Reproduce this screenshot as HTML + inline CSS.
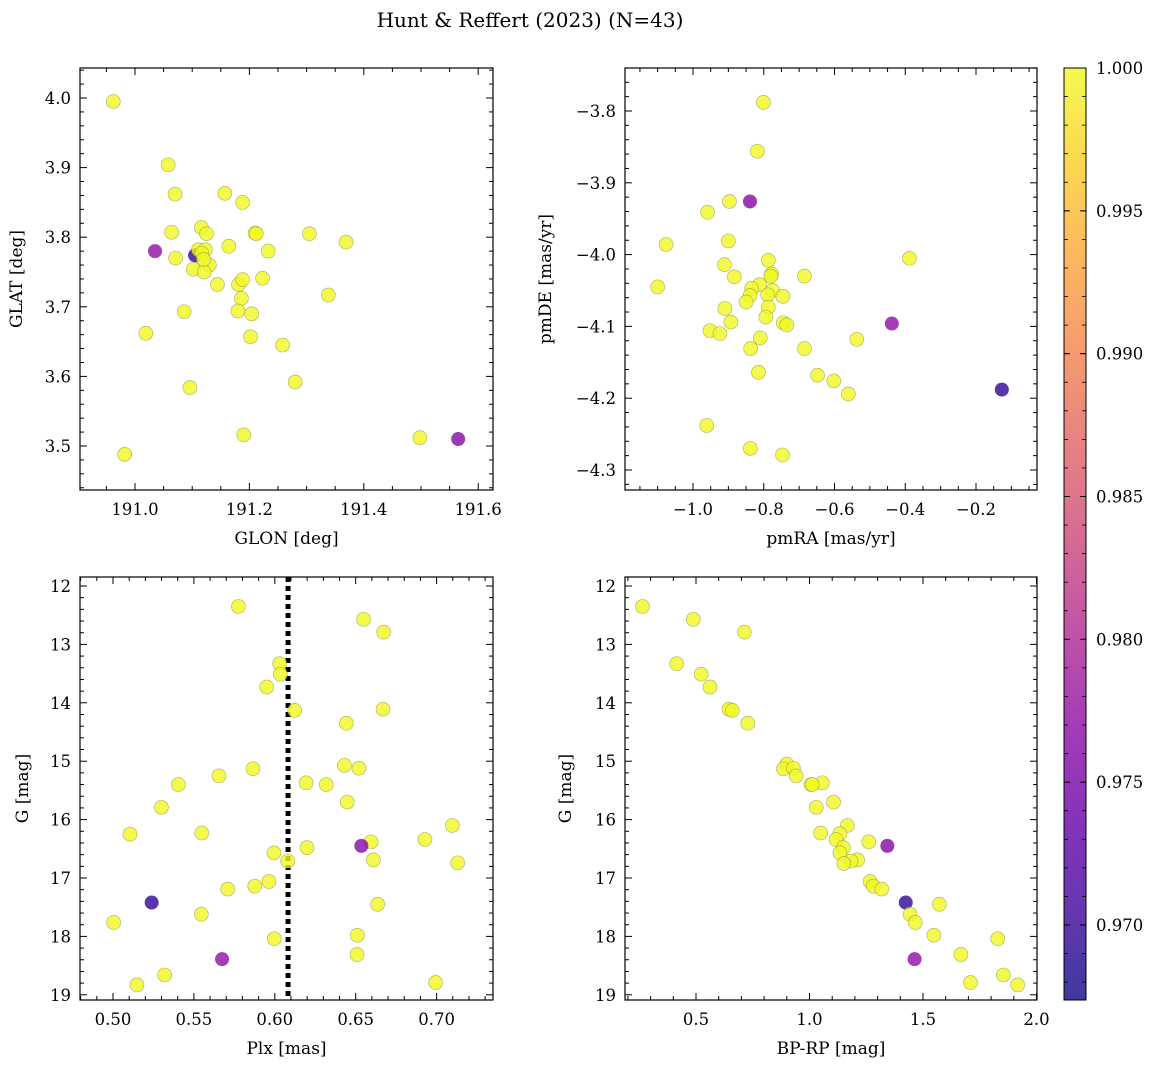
<!DOCTYPE html>
<html><head><meta charset="utf-8"><style>
body{margin:0;background:#fff;}
svg{display:block;font-family:"DejaVu Serif","Liberation Serif",serif;}
</style></head><body>
<svg id="fig" width="1161" height="1067" viewBox="0 0 1161 1067">
<defs><linearGradient id="plasma" x1="0" y1="1" x2="0" y2="0">
<stop offset="0" stop-color="#0d0887"/><stop offset="0.1" stop-color="#41049d"/><stop offset="0.2" stop-color="#6a00a8"/><stop offset="0.3" stop-color="#8f0da4"/><stop offset="0.4" stop-color="#b12a90"/><stop offset="0.5" stop-color="#cc4778"/><stop offset="0.6" stop-color="#e16462"/><stop offset="0.7" stop-color="#f2844b"/><stop offset="0.8" stop-color="#fca636"/><stop offset="0.9" stop-color="#fcce25"/><stop offset="1" stop-color="#f0f921"/></linearGradient></defs>
<text x="530" y="27" text-anchor="middle" font-size="20">Hunt &amp; Reffert (2023) (N=43)</text>
</svg>
<script>
// Panel data
const glon=[190.962,191.058,191.070,191.157,191.188,191.064,191.116,191.125,191.210,191.212,191.305,191.369,191.035,191.105,191.111,191.123,191.164,191.233,191.071,191.130,191.102,191.121,191.144,191.181,191.188,191.223,191.338,191.186,191.086,191.180,191.204,191.019,191.202,191.258,191.280,191.096,191.190,191.498,191.565,190.982,191.117,191.120];
const glat=[3.995,3.904,3.862,3.863,3.850,3.807,3.814,3.805,3.806,3.805,3.805,3.793,3.780,3.774,3.782,3.782,3.787,3.780,3.770,3.760,3.754,3.750,3.732,3.732,3.739,3.741,3.717,3.712,3.693,3.694,3.690,3.662,3.657,3.645,3.592,3.584,3.516,3.512,3.510,3.488,3.777,3.768];
const prob1=[1,1,1,1,1,1,1,1,1,1,1,1,0.977,0.9695,1,1,1,1,1,1,1,1,1,1,1,1,1,1,1,1,1,1,1,1,1,1,1,1,0.976,1,1,1];
const pmra=[-0.801,-0.818,-0.897,-0.839,-0.959,-1.076,-0.900,-0.787,-0.388,-0.911,-0.883,-0.778,-0.780,-0.685,-1.100,-0.812,-0.834,-0.775,-0.789,-0.746,-0.839,-0.850,-0.787,-0.910,-0.794,-0.893,-0.745,-0.735,-0.438,-0.952,-0.924,-0.537,-0.810,-0.837,-0.685,-0.815,-0.648,-0.602,-0.561,-0.127,-0.961,-0.838,-0.747];
const pmde=[-3.788,-3.856,-3.926,-3.926,-3.941,-3.986,-3.981,-4.008,-4.005,-4.014,-4.031,-4.027,-4.030,-4.030,-4.045,-4.042,-4.047,-4.050,-4.056,-4.058,-4.057,-4.066,-4.073,-4.075,-4.087,-4.094,-4.095,-4.098,-4.096,-4.106,-4.110,-4.118,-4.116,-4.131,-4.131,-4.164,-4.168,-4.176,-4.194,-4.188,-4.238,-4.270,-4.279];
const prob2=[1,1,1,0.976,1,1,1,1,1,1,1,1,1,1,1,1,1,1,1,1,1,1,1,1,1,1,1,1,0.977,1,1,1,1,1,1,1,1,1,1,0.9695,1,1,1];
const plx=[0.5775,0.6549,0.6673,0.6030,0.6034,0.5950,0.6123,0.6669,0.6442,0.6430,0.6520,0.5865,0.5655,0.5404,0.6193,0.6318,0.6448,0.5299,0.7097,0.5105,0.5548,0.6928,0.6595,0.6535,0.6199,0.5995,0.6609,0.6080,0.7130,0.5964,0.5876,0.5709,0.5239,0.6636,0.5546,0.5004,0.6510,0.5997,0.5674,0.6508,0.5319,0.5148,0.6994];
const gmag3=[12.35,12.57,12.79,13.33,13.51,13.73,14.13,14.11,14.35,15.07,15.12,15.13,15.25,15.40,15.37,15.40,15.70,15.79,16.10,16.25,16.23,16.34,16.38,16.45,16.48,16.57,16.69,16.71,16.74,17.06,17.14,17.19,17.42,17.45,17.62,17.76,17.98,18.04,18.39,18.31,18.66,18.83,18.79];
const prob3=[1,1,1,1,1,1,1,1,1,1,1,1,1,1,1,1,1,1,1,1,1,1,1,0.976,1,1,1,1,1,1,1,1,0.9695,1,1,1,1,1,0.977,1,1,1,1];
const plxMean=[0.6082];
const bprp=[0.264,0.488,0.713,0.415,0.523,0.562,0.645,0.660,0.728,0.900,0.885,0.929,0.941,1.007,1.057,1.012,1.106,1.030,1.167,1.049,1.134,1.117,1.261,1.343,1.149,1.134,1.212,1.183,1.151,1.267,1.281,1.318,1.424,1.572,1.443,1.466,1.548,1.829,1.463,1.667,1.854,1.709,1.917];
const gmag4=[12.35,12.57,12.79,13.33,13.51,13.73,14.11,14.13,14.35,15.05,15.13,15.12,15.25,15.40,15.37,15.40,15.70,15.79,16.10,16.23,16.24,16.34,16.38,16.45,16.48,16.57,16.69,16.71,16.75,17.06,17.14,17.19,17.42,17.45,17.62,17.76,17.98,18.04,18.39,18.31,18.66,18.79,18.83];
const prob4=[1,1,1,1,1,1,1,1,1,1,1,1,1,1,1,1,1,1,1,1,1,1,1,0.976,1,1,1,1,1,1,1,1,0.9695,1,1,1,1,1,0.977,1,1,1,1];
const cbarTicks=["0.970","0.975","0.980","0.985","0.990","0.995","1.000"];
const t1x=["191.0","191.2","191.4","191.6"], t1y=["3.5","3.6","3.7","3.8","3.9","4.0"];
const t2x=["−1.0","−0.8","−0.6","−0.4","−0.2"], t2y=["−4.3","−4.2","−4.1","−4.0","−3.9","−3.8"];
const t3x=["0.50","0.55","0.60","0.65","0.70"], t3y=["12","13","14","15","16","17","18","19"];
const t4x=["0.5","1.0","1.5","2.0"], t4y=t3y;

const NS="http://www.w3.org/2000/svg", svg=document.getElementById('fig');
function mk(tag,attrs,parent){const e=document.createElementNS(NS,tag);for(const k in attrs)e.setAttribute(k,attrs[k]);(parent||svg).appendChild(e);return e;}
const VMIN=0.9674,VMAX=1.0;
const stops=["#0d0887","#41049d","#6a00a8","#8f0da4","#b12a90","#cc4778","#e16462","#f2844b","#fca636","#fcce25","#f0f921"];
function hex(h){return [1,3,5].map(i=>parseInt(h.substr(i,2),16));}
function cmap(v){let t=Math.max(0,Math.min(1,(v-VMIN)/(VMAX-VMIN)))*10;const i=Math.min(9,Math.floor(t)),f=t-i;const a=hex(stops[i]),b=hex(stops[i+1]);return 'rgb('+a.map((c,k)=>Math.round(c+(b[k]-c)*f)).join(',')+')';}

function panel(o){
  const g=mk('g',{});
  
  
  const sx=v=>o.x0+(v-o.xa)*o.kx, sy=v=>o.y0+(v-o.ya)*o.ky;
  function ticks(axis){
    const isX=axis==='x';
    const lo=isX?o.xl:o.yl, hi=isX?o.xh:o.yh, step=isX?o.xmin:o.ymin, maj=isX?o.xmaj:o.ymaj;
    const start=Math.ceil((lo-1e-9)/step)*step;
    for(let v=start;v<=hi+1e-9;v+=step){
      const isMaj=Math.abs(v/maj-Math.round(v/maj))<1e-6;const L=isMaj?7:4;
      if(isX){const p=sx(v);mk('line',{x1:p,x2:p,y1:o.B,y2:o.B-L,stroke:'#000','stroke-width':1},g);mk('line',{x1:p,x2:p,y1:o.T,y2:o.T+L,stroke:'#000','stroke-width':1},g);}
      else{const p=sy(v);mk('line',{y1:p,y2:p,x1:o.L,x2:o.L+L,stroke:'#000','stroke-width':1},g);mk('line',{y1:p,y2:p,x1:o.R,x2:o.R-L,stroke:'#000','stroke-width':1},g);}
    }
  }
  ticks('x');ticks('y');
  o.xlabels.forEach((s,i)=>{const v=o.xfirst+i*o.xmaj;const t=mk('text',{x:sx(v),y:o.B+25,'text-anchor':'middle','font-size':16.5},g);t.textContent=s;});
  o.ylabels.forEach((s,i)=>{const v=o.yfirst+i*o.ymaj;const t=mk('text',{x:o.L-9,y:sy(v)+6,'text-anchor':'end','font-size':16.5},g);t.textContent=s;});
  const xt=mk('text',{x:(o.L+o.R)/2,y:o.B+54,'text-anchor':'middle','font-size':17},g);xt.textContent=o.xt;
  
  const yx=o.ytx,yy=(o.T+o.B)/2;
  const yt=mk('text',{x:yx,y:yy,'text-anchor':'middle','font-size':17,transform:'rotate(-90 '+yx+' '+yy+')'},g);yt.textContent=o.yt;
  
  if(o.vline){const p=sx(o.vline[0]);const l=mk('line',{x1:p,x2:p,y1:o.T,y2:o.B,stroke:'#000','stroke-width':5,'stroke-dasharray':'5 4'},g);}
  o.xs.forEach((xv,i)=>{const c=mk('circle',{cx:sx(xv),cy:sy(o.ys[i]),r:7,fill:cmap(o.c[i]),'fill-opacity':0.8,stroke:o.c[i]>0.999?'#8a8a40':'none','stroke-opacity':0.6,'stroke-width':0.7},g);
    });
  const fr=mk('rect',{x:o.L,y:o.T,width:o.R-o.L,height:o.B-o.T,fill:'none',stroke:'#000','stroke-width':1.2},g);
  
}
panel({name:'panel-position',L:80,R:493,T:68,B:490,x0:135,xa:191.0,kx:572,y0:98,ya:4.0,ky:-696,xl:190.904,xh:191.626,yl:3.44,yh:4.045,xmin:0.05,xmaj:0.2,ymin:0.02,ymaj:0.1,xlabels:t1x,xfirst:191.0,ylabels:t1y,yfirst:3.5,xt:'GLON [deg]',yt:'GLAT [deg]',ytx:22,xs:glon,ys:glat,c:prob1});
panel({name:'panel-proper-motion',L:625,R:1037,T:68,B:490,x0:693,xa:-1.0,kx:353.75,y0:111,ya:-3.8,ky:-718,xl:-1.19,xh:-0.02,yl:-4.33,yh:-3.74,xmin:0.05,xmaj:0.2,ymin:0.02,ymaj:0.1,xlabels:t2x,xfirst:-1.0,ylabels:t2y,yfirst:-4.3,xt:'pmRA [mas/yr]',yt:'pmDE [mas/yr]',ytx:551,xs:pmra,ys:pmde,c:prob2});
panel({name:'panel-parallax',L:80,R:493,T:577,B:1000,x0:113,xa:0.5,kx:1618,y0:586,ya:12,ky:58.4,xl:0.48,xh:0.735,yl:11.85,yh:19.09,xmin:0.01,xmaj:0.05,ymin:0.2,ymaj:1,xlabels:t3x,xfirst:0.5,ylabels:t3y,yfirst:12,xt:'Plx [mas]',yt:'G [mag]',ytx:28,xs:plx,ys:gmag3,c:prob3,vline:plxMean});
panel({name:'panel-cmd',L:625,R:1037,T:577,B:1000,x0:696,xa:0.5,kx:227,y0:586,ya:12,ky:58.4,xl:0.19,xh:2.005,yl:11.85,yh:19.09,xmin:0.1,xmaj:0.5,ymin:0.2,ymaj:1,xlabels:t4x,xfirst:0.5,ylabels:t4y,yfirst:12,xt:'BP-RP [mag]',yt:'G [mag]',ytx:571,xs:bprp,ys:gmag4,c:prob4});
// colorbar
const cb=mk('g',{});


mk('rect',{x:1064,y:68,width:22,height:932,fill:'url(#plasma)','fill-opacity':0.8},cb);
mk('rect',{x:1064,y:68,width:22,height:932,fill:'none',stroke:'#000','stroke-width':1},cb);
const cy=v=>68+(VMAX-v)*(857/0.03);
cbarTicks.forEach(s=>{const v=parseFloat(s);const p=cy(v);mk('line',{x1:1086,x2:1080,y1:p,y2:p,stroke:'#000','stroke-width':1},cb);mk('line',{x1:1064,x2:1070,y1:p,y2:p,stroke:'#000','stroke-width':1},cb);
  const t=mk('text',{x:1096,y:p+6,'font-size':16.5},cb);t.textContent=s;});
for(let v=0.968;v<1.0;v+=0.001){const p=cy(v);if(p>1000)continue;mk('line',{x1:1086,x2:1082,y1:p,y2:p,stroke:'#000','stroke-width':0.8},cb);mk('line',{x1:1064,x2:1068,y1:p,y2:p,stroke:'#000','stroke-width':0.8},cb);}
</script>
</body></html>
